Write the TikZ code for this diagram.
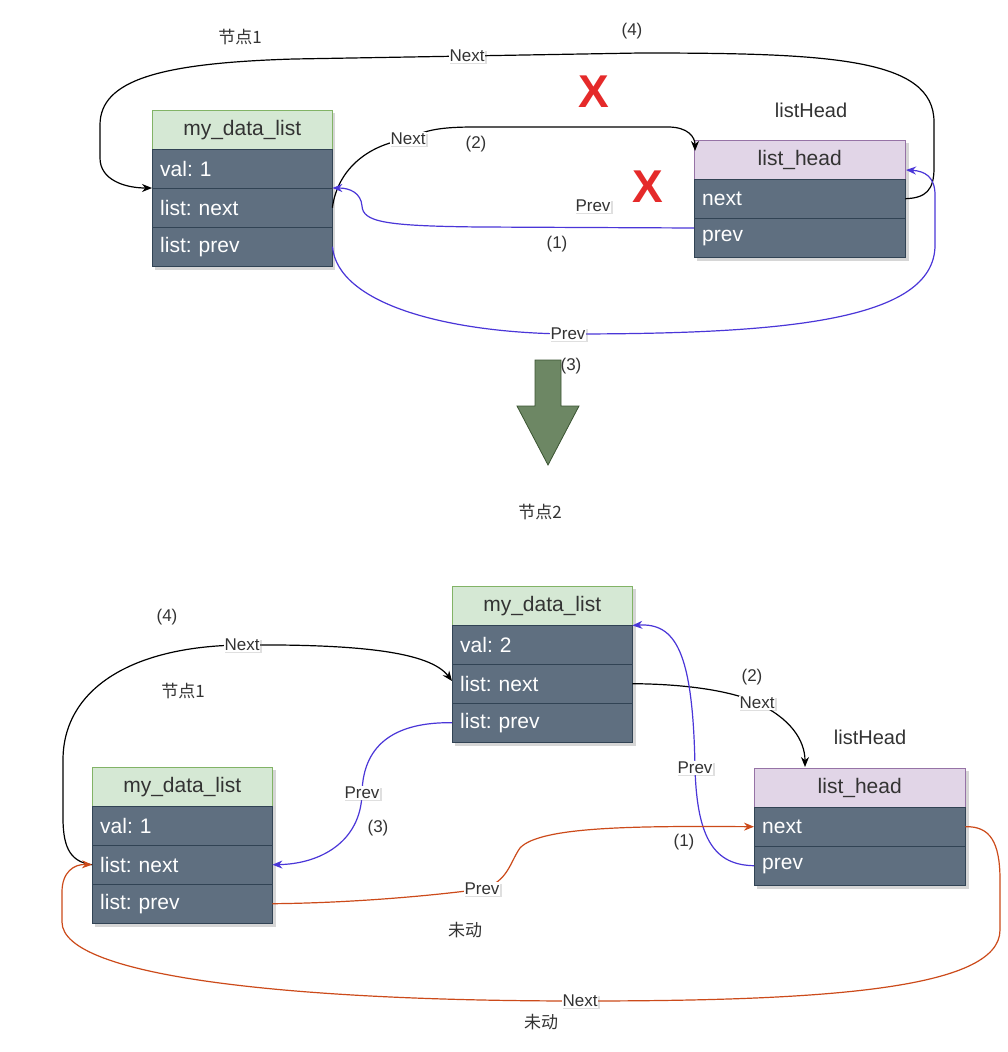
\documentclass[tikz,border=0pt]{standalone}
\usepackage{fontspec}
\setmainfont{Liberation Sans}
\newfontfamily\cjk{Noto Sans CJK SC}
\usetikzlibrary{arrows.meta,shadows,calc}
\definecolor{hgfill}{HTML}{D5E8D4}
\definecolor{hgdraw}{HTML}{82B366}
\definecolor{hpfill}{HTML}{E1D5E7}
\definecolor{hpdraw}{HTML}{9673A6}
\definecolor{rowfill}{HTML}{5F6F80}
\definecolor{rowdraw}{HTML}{314354}
\definecolor{lnblue}{HTML}{4A36D8}
\definecolor{lnorange}{HTML}{CC4A1A}
\definecolor{agfill}{HTML}{6D8764}
\definecolor{agdraw}{HTML}{3A5431}
\definecolor{redx}{HTML}{E52A2A}
\definecolor{txt}{HTML}{333333}
\frenchspacing
\begin{document}
\begin{tikzpicture}[x=1pt,y=-1pt,
  boxfont/.style={font=\fontsize{21}{25}\selectfont},
  hdrg/.style={boxfont,draw=hgdraw,fill=hgfill,text=txt,anchor=north west,minimum width=180,minimum height=39,inner sep=0pt},
  hdrp/.style={boxfont,draw=hpdraw,fill=hpfill,text=txt,anchor=north west,minimum width=211,minimum height=39,inner sep=0pt},
  rowa/.style={boxfont,draw=rowdraw,fill=rowfill,text=white,anchor=north west,minimum height=39,inner xsep=8pt,inner ysep=0pt,text width=164,align=left},
  rowb/.style={boxfont,draw=rowdraw,fill=rowfill,text=white,anchor=north west,minimum height=39,inner xsep=8pt,inner ysep=0pt,text width=195,align=left},
  boxshadow/.style={fill=black,opacity=0.16},
  lbl/.style={fill=white,inner sep=1pt,text=txt,font=\fontsize{17}{19}\selectfont,drop shadow={shadow xshift=1.5pt,shadow yshift=-1.5pt,opacity=0.25}},
  note/.style={text=txt,font=\fontsize{17}{19}\selectfont},
  cjknote/.style={text=txt,font=\cjk\fontsize{17}{20}\selectfont},
  headnote/.style={text=txt,font=\fontsize{20}{24}\selectfont},
  crossmark/.style={text=redx,font=\fontsize{46}{46}\selectfont\bfseries},
  conn/.style={line width=1.2pt,-{Stealth[length=10pt,width=8pt]}},
  blk/.style={conn,draw=black},
  blu/.style={conn,draw=lnblue},
  org/.style={conn,draw=lnorange}
]
\fill[white] (0,0) rectangle (1008,1052);
\useasboundingbox (0,0) rectangle (1008,1052);

% ---------------- top part ----------------
\fill[boxshadow] (155,113) rectangle (335,270);
\fill[boxshadow] (697,143) rectangle (909,261);
\node[hdrg] (A0) at (152,110) {my\_data\_list};
\node[rowa] (A1) at (152,149) {val: 1};
\node[rowa] (A2) at (152,188) {list: next};
\node[rowa] (A3) at (152,227) {list: prev};

\node[hdrp] (B0) at (694,140) {list\_head};
\node[rowb] (B1) at (694,179) {next};
\node[rowb] (B2) at (694,218) {prev};

\node[cjknote] (t1) at (240,37) {节点1};
\node[note] (n4a) at (632,31) {(4)};
\node[headnote] (lh1) at (811,110) {listHead};
\node[note] (n2a) at (476,144) {(2)};
\node[note] (n1a) at (557,244) {(1)};
\node[note] (n3a) at (571,366) {(3)};
\node[lbl] (pv1) at (593,206) {Prev};
\node[crossmark] (x1) at (594,92) {X};
\node[crossmark] (x2) at (648,187) {X};

\coordinate (b2tip) at (695,151);
\coordinate (b2src) at (694,228);
\coordinate (b0tip) at (906,170);

% (4) Next
\draw[blk] (B1.east) .. controls (926,198) and (934,190) .. (934,168) -- (934,122)
  .. controls (934,58) and (830,53) .. (640,53)
  -- node[lbl] (nx4a) {Next} (294,59)
  .. controls (160,63) and (100,80) .. (100,125) -- (100,158)
  .. controls (100,180) and (125,188) .. (A2.north west);
% (2) Next
\draw[blk] (A2.east) .. controls (337,172) and (365,145) .. (408,139) node[lbl] (nx2a) {Next}
  .. controls (425,130) and (440,127) .. (475,127) -- (668,127)
  .. controls (688,127) and (695,137) .. (b2tip);
% (1) Prev
\draw[blu] (b2src) -- (480,227) .. controls (385,226) and (363,222) .. (362,206)
  .. controls (361,193) and (350,188) .. (A2.north east);
% (3) Prev
\draw[blu] (A3.east) .. controls (338,305) and (450,333) .. (568,334) node[lbl] (pv3a) {Prev}
  .. controls (780,334) and (935,322) .. (935,245) -- (935,195)
  .. controls (935,177) and (925,171) .. (b0tip);

% big arrow
\filldraw[fill=agfill,draw=agdraw,line width=0.8pt] (535,360) -- (561,360) -- (561,406) -- (579,406)
  -- (548,465) -- (517,406) -- (535,406) -- cycle;
\node[cjknote] (t2) at (540,512) {节点2};

% ---------------- bottom part ----------------
\fill[boxshadow] (455,589) rectangle (636,746);
\fill[boxshadow] (757,771) rectangle (969,889);
\fill[boxshadow] (95,770) rectangle (276,927);
\node[hdrg] (C0) at (452,586) {my\_data\_list};
\node[rowa] (C1) at (452,625) {val: 2};
\node[rowa] (C2) at (452,664) {list: next};
\node[rowa] (C3) at (452,703) {list: prev};

\node[hdrp] (D0) at (754,768) {list\_head};
\node[rowb] (D1) at (754,807) {next};
\node[rowb] (D2) at (754,846) {prev};

\node[hdrg] (E0) at (92,767) {my\_data\_list};
\node[rowa] (E1) at (92,806) {val: 1};
\node[rowa] (E2) at (92,845) {list: next};
\node[rowa] (E3) at (92,884) {list: prev};

\node[note] (n4b) at (167,617) {(4)};
\node[cjknote] (t3) at (183,691) {节点1};
\node[headnote] (lh2) at (870,737) {listHead};
\node[note] (n2b) at (752,677) {(2)};
\node[note] (n1b) at (684,842) {(1)};
\node[note] (n3b) at (378,828) {(3)};
\node[cjknote] (wd1) at (465,930) {未动};
\node[cjknote] (wd2) at (541,1022) {未动};

\coordinate (c2tip) at (452,681);
\coordinate (d0tip) at (805,767);

% (4) Next
\draw[blk] (E2.west) .. controls (72,862) and (63,850) .. (63,818) -- (63,760)
  .. controls (63,690) and (130,646) .. (242,645) node[lbl] (nx4b) {Next}
  .. controls (360,644) and (430,652) .. (c2tip);
% (2) Next
\draw[blk] (C2.east) .. controls (690,684) and (735,692) .. (757,703) node[lbl] (nx2b) {Next}
  .. controls (790,718) and (805,740) .. (d0tip);
% (3) Prev
\draw[blu] (C3.west) .. controls (398,722) and (363,742) .. (362,793) node[lbl] (pv3b) {Prev}
  .. controls (361,842) and (320,864) .. (E2.east);
% (1) Prev
\draw[blu] (D2.west) .. controls (715,865) and (697,840) .. (695,768) node[lbl] (pv1b) {Prev}
  .. controls (693,650) and (675,623) .. (C0.south east);
% orange Prev
\draw[org] (E3.east) .. controls (350,903) and (430,896) .. (482,889) node[lbl] (pv5) {Prev}
  .. controls (508,882) and (510,862) .. (520,848)
  .. controls (540,826) and (640,826) .. (D1.west);
% orange Next
\draw[org] (D1.east) .. controls (990,826) and (1000,842) .. (1000,880) -- (1000,930)
  .. controls (1000,990) and (820,1001) .. (580,1001) node[lbl] (nx5) {Next}
  .. controls (300,1001) and (62,978) .. (62,922) -- (62,892)
  .. controls (62,872) and (74,864) .. (E2.west);
\end{tikzpicture}
\end{document}
